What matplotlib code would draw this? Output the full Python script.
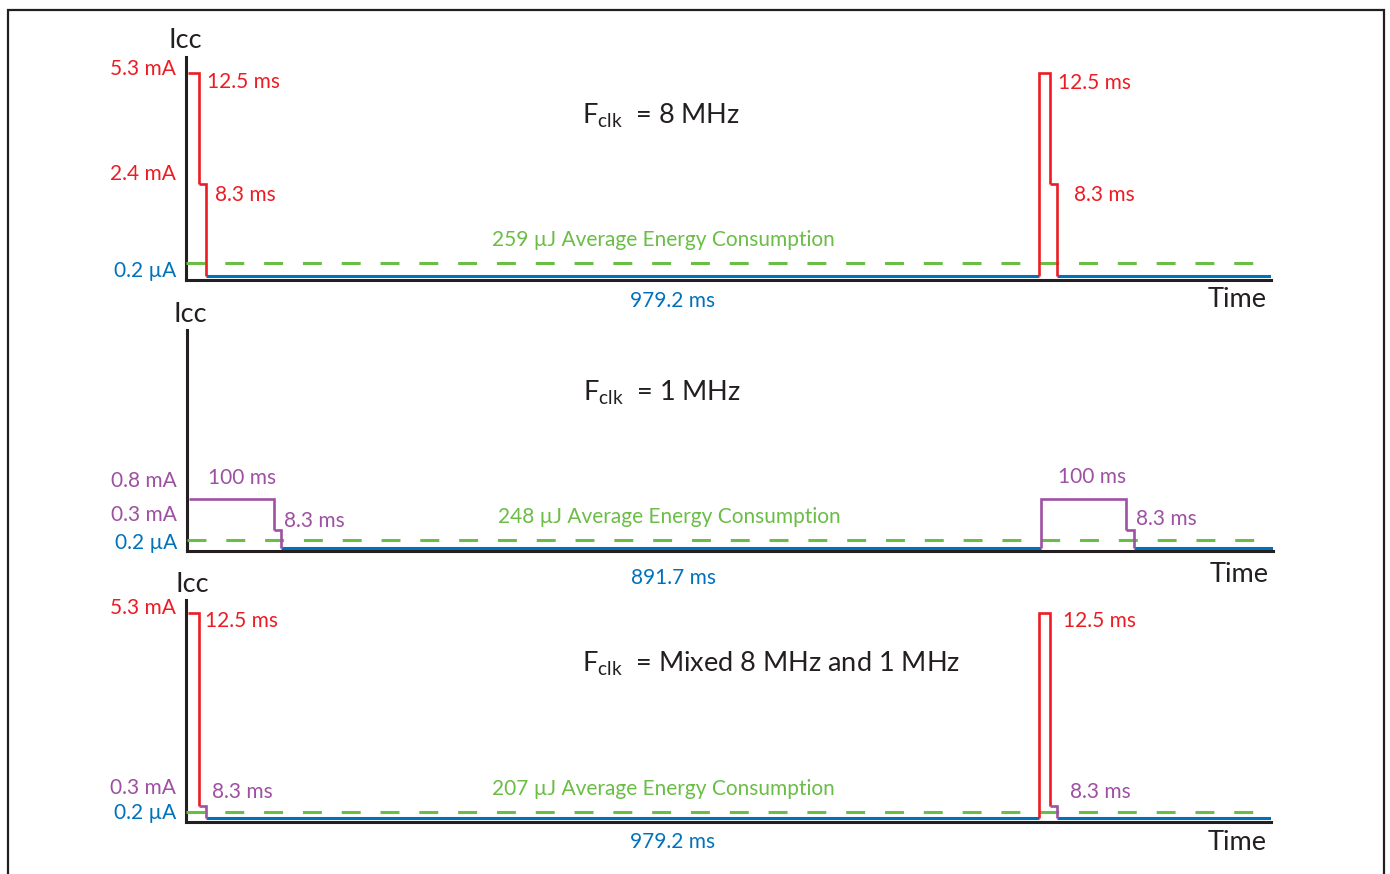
import matplotlib
matplotlib.use('Agg')
import matplotlib.pyplot as plt
from matplotlib.patches import Rectangle

# ---------------- data ----------------
period_ms = 1000.0
pulse_starts_ms = [0.0, 1000.0]
sleep_current_uA = 0.2
x_end_ms = 1272.0

# Fclk = 8 MHz
f8_levels_mA = [5.3, 2.4]
f8_durations_ms = [12.5, 8.3]
f8_sleep_ms = 979.2
f8_energy_uJ = 259

# Fclk = 1 MHz
f1_levels_mA = [0.8, 0.3]
f1_durations_ms = [100.0, 8.3]
f1_sleep_ms = 891.7
f1_energy_uJ = 248

# Fclk = mixed 8 MHz and 1 MHz
mx_levels_mA = [5.3, 0.3]
mx_durations_ms = [12.5, 8.3]
mx_sleep_ms = 979.2
mx_energy_uJ = 207

# level at which the dashed "average" line is drawn (schematic)
avg_line_mA = [0.34, 0.13, 0.155]

clock_labels = ["8 MHz", "1 MHz", "Mixed 8 MHz and 1 MHz"]

# ---------------- style ----------------
RED = '#ED1C24'
BLUE = '#0072BC'
GREEN = '#6ABD45'
PURPLE = '#9E50A2'
BLACK = '#231F20'

plt.rcParams['font.family'] = ['Lato', 'DejaVu Sans']
plt.rcParams['mathtext.fontset'] = 'custom'
plt.rcParams['mathtext.rm'] = 'Lato'
plt.rcParams['mathtext.it'] = 'Lato'

W, H = 1390, 874
fig = plt.figure(figsize=(W / 100, H / 100), dpi=100)
fig.patch.set_facecolor('white')

# outer frame
fig.patches.append(Rectangle((8 / W, -0.05), (1384 - 8) / W, 1 - 10 / H + 0.05,
                             transform=fig.transFigure, fill=False,
                             edgecolor=BLACK, lw=1.6))

SMALL = 15
BIG = 19.5
TITLE = 19.5


def px_axes(left, top, right, bottom):
    return fig.add_axes([left / W, 1 - bottom / H, (right - left) / W, (bottom - top) / H])


panels = [
    dict(levels=f8_levels_mA, durs=f8_durations_ms, sleep=f8_sleep_ms, energy=f8_energy_uJ,
         colors=[RED, RED], rect=(186, 57, 1271, 280), ylim=(-0.104, 5.72),
         lvl_dy=[4, 10], icc_dx=-1, icc_dy=17, under_dy=[21, 19],
         pulse_lbl=[[(19, -9), (9, -11)], [(19, -10), (17, -11)]],
         center_ha=['left', 'left'], title_y=0.735, energy_x=0.4396),
    dict(levels=f1_levels_mA, durs=f1_durations_ms, sleep=f1_sleep_ms, energy=f1_energy_uJ,
         colors=[PURPLE, PURPLE], rect=(187, 330, 1273, 551), ylim=(-0.049, 3.56),
         lvl_dy=[18, 15], icc_dx=3, icc_dy=15, under_dy=[27, 24],
         pulse_lbl=[[(10, 21), (3, 9)], [(8, 22), (2, 11)]],
         center_ha=['center', 'left'], title_y=0.715, energy_x=0.444),
    dict(levels=mx_levels_mA, durs=mx_durations_ms, sleep=mx_sleep_ms, energy=mx_energy_uJ,
         colors=[RED, PURPLE], rect=(186, 600, 1271, 822), ylim=(-0.103, 5.63),
         lvl_dy=[5, 18], icc_dx=6, icc_dy=15, under_dy=[20, 20],
         pulse_lbl=[[(17, -8), (6, 14)], [(24, -8), (13, 14)]],
         center_ha=['left', 'left'], title_y=0.712, energy_x=0.4396),
]

base = sleep_current_uA / 1000.0

for i, p in enumerate(panels):
    ax = px_axes(*p['rect'])
    ax.set_xlim(-2.5, x_end_ms)
    ax.set_ylim(*p['ylim'])
    for s in ['top', 'right']:
        ax.spines[s].set_visible(False)
    for s in ['left', 'bottom']:
        ax.spines[s].set_color(BLACK)
        ax.spines[s].set_linewidth(2.2)
        ax.spines[s].set_zorder(1)
    ax.set_xticks([])
    ax.set_yticks([])
    ax.patch.set_alpha(0)

    levels, durs, cols = p['levels'], p['durs'], p['colors']
    pulse_len = sum(durs)

    # average line
    ax.plot([-2.5, x_end_ms], [avg_line_mA[i]] * 2, color=GREEN, lw=2.2,
            dashes=(6.2, 6.5), zorder=2)

    # sleep (blue) segments
    ends = pulse_starts_ms[1:] + [x_end_ms]
    for t0, t1 in zip(pulse_starts_ms, ends):
        ax.plot([t0 + pulse_len, t1], [base, base], color=BLUE, lw=2.2,
                solid_capstyle='butt', zorder=3)

    # active pulses
    for k, t0 in enumerate(pulse_starts_ms):
        t = t0
        for j, (lv, d, c) in enumerate(zip(levels, durs, cols)):
            nxt = levels[j + 1] if j + 1 < len(levels) else base
            xs = [t, t + d, t + d]
            ys = [lv, lv, nxt]
            if j == 0 and t0 > 0:
                xs = [t] + xs
                ys = [base] + ys
            ax.plot(xs, ys, color=c, lw=1.9, solid_joinstyle='miter',
                    solid_capstyle='butt', zorder=4)
            # duration labels
            dx, dy = p['pulse_lbl'][k][j]
            ha = p['center_ha'][j]
            if ha == 'center':
                ax_x = t + d / 2
            elif j > 0:
                ax_x = t + d
            else:
                ax_x = t
            ax.annotate(f"{d:g} ms", xy=(ax_x, lv), xytext=(dx, dy),
                        textcoords='offset pixels', ha=ha, va='center',
                        color=c, fontsize=SMALL)
            t += d

    # level labels on the left
    for j, (lv, c) in enumerate(zip(levels, cols)):
        ax.annotate(f"{lv:g} mA", xy=(0, lv), xycoords=('axes fraction', 'data'),
                    xytext=(-10, p['lvl_dy'][j]), textcoords='offset pixels',
                    ha='right', va='center', color=c, fontsize=SMALL)
    ax.annotate(f"{sleep_current_uA:g} µA", xy=(0, base), xycoords=('axes fraction', 'data'),
                xytext=(-10, 5), textcoords='offset pixels',
                ha='right', va='center', color=BLUE, fontsize=SMALL)

    # Icc label
    ax.annotate("Icc", xy=(0, 1), xycoords='axes fraction',
                xytext=(p['icc_dx'], p['icc_dy']), textcoords='offset pixels',
                ha='center', va='center', color=BLACK, fontsize=BIG)

    # Time label and sleep duration
    ax.annotate("Time", xy=(0.969, 0), xycoords='axes fraction',
                xytext=(0, -p['under_dy'][1]), textcoords='offset pixels',
                ha='center', va='center', color=BLACK, fontsize=BIG)
    ax.annotate(f"{p['sleep']:g} ms", xy=(0.448, 0), xycoords='axes fraction',
                xytext=(0, -p['under_dy'][0]), textcoords='offset pixels',
                ha='center', va='center', color=BLUE, fontsize=SMALL)

    # energy label
    ax.annotate(f"{p['energy']} µJ Average Energy Consumption",
                xy=(p['energy_x'], avg_line_mA[i]), xycoords=('axes fraction', 'data'),
                xytext=(0, 23), textcoords='offset pixels',
                ha='center', va='center', color=GREEN, fontsize=SMALL)

    # clock title
    ax.text(0.365, p['title_y'], r"$\mathregular{F_{clk}}$  = " + clock_labels[i],
            transform=ax.transAxes, ha='left', va='center', color=BLACK, fontsize=TITLE)

fig.savefig('out.png', dpi=100, facecolor='white')
